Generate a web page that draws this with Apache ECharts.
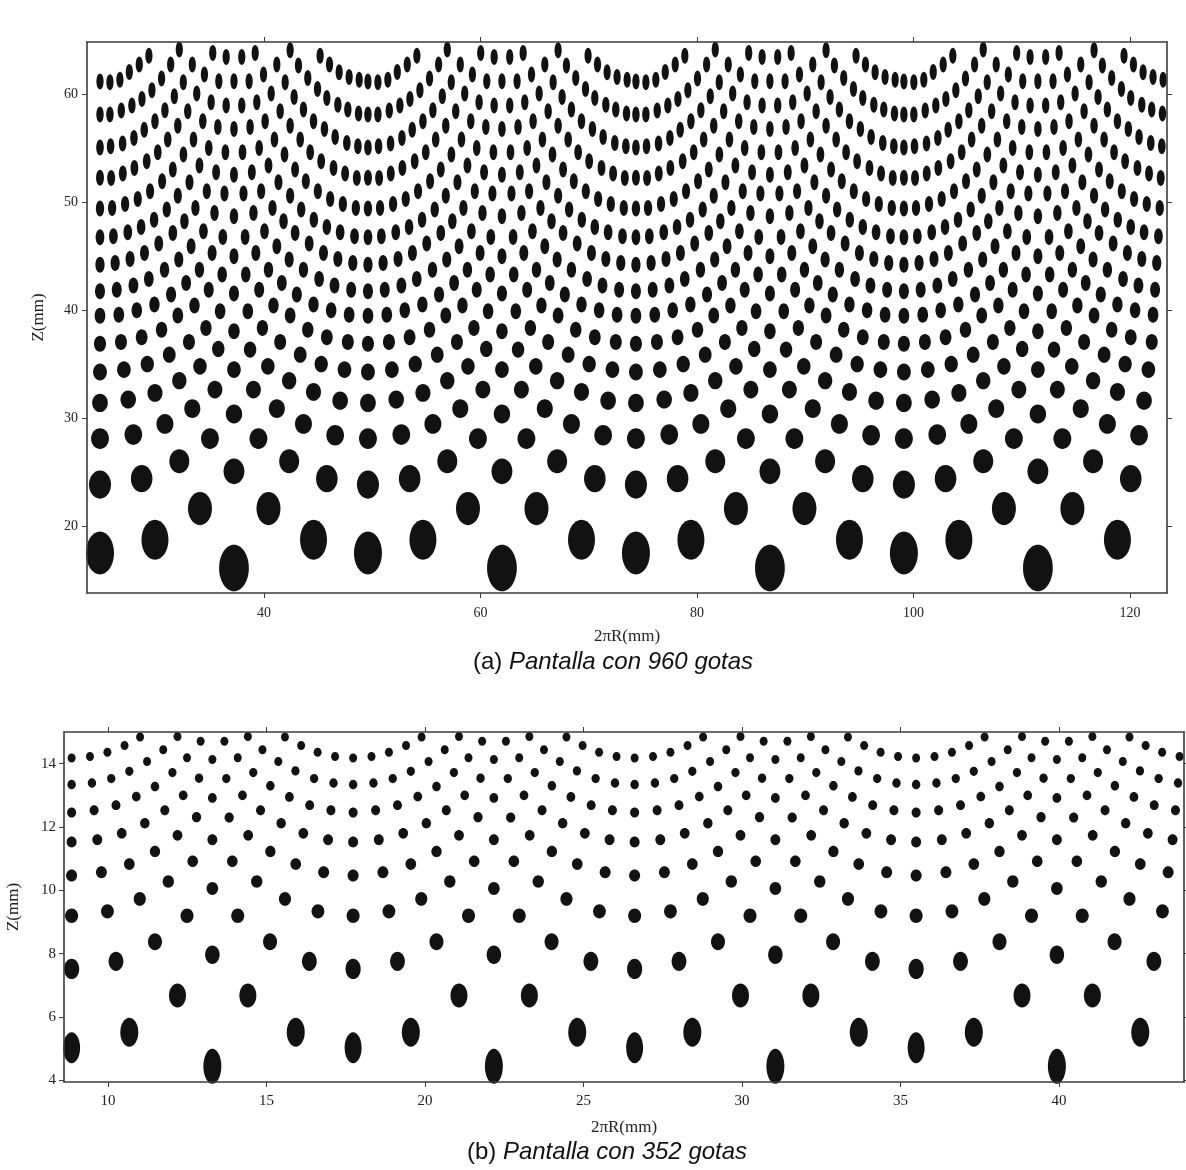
<!DOCTYPE html>
<html>
<head>
<meta charset="utf-8">
<script src="https://cdn.jsdelivr.net/npm/echarts@6/dist/echarts.min.js"></script>
<style>
  html, body { margin: 0; padding: 0; background: #ffffff; }
  #chart { width: 1186px; height: 1170px; }
</style>
</head>
<body>
<div id="chart"></div>
<script>
// ---------------------------------------------------------------
// Panel (a): screen with 960 drops (4 identical sectors of 240).
// Each sector is given as offsets dx (mm) from its big bottom drop.
// ---------------------------------------------------------------
const centrosA = [37.22, 61.98, 86.74, 111.50];

const gotasA_dx = [
  // valley column
  -12.38, -12.38, -12.38, -12.38, -12.38, -12.38, -12.38, -12.38, -12.38, -12.38, -12.38, -12.38, -12.38, -12.38, -12.38,
  // centre column
  0, 0, 0, 0, 0, 0, 0, 0, 0, 0, 0,
  // right-hand rows (from the valley upwards)
  11.57, 10.64, 9.72, 8.83, 7.96,
  11.51, 10.52, 9.60, 8.58, 7.72, 6.82, 5.96, 5.19,
  11.45, 10.43, 9.35, 8.36, 7.35, 6.42, 5.56, 4.73, 3.96,
  11.35, 10.27, 9.20, 8.06, 7.04, 6.12, 5.19, 4.27, 3.44, 2.73, 1.96,
  11.26, 10.06, 8.89, 7.75, 6.64, 5.65, 4.67, 3.74, 2.88, 2.11, 1.40, 0.72,
  11.14, 9.81, 8.58, 7.38, 6.21, 5.19, 4.11, 3.19, 2.33, 1.49, 0.72,
  10.98, 9.60, 8.27, 6.95, 5.65, 4.58, 3.56, 2.51, 1.65, 0.79,
  10.83, 9.29, 7.87, 6.42, 5.10, 3.96, 2.82, 1.80, 0.88,
  10.64, 8.98, 7.35, 5.81, 4.42, 3.19, 2.02, 1.03,
  10.52, 8.58, 6.82, 5.19, 3.65, 2.33, 1.09,
  10.21, 8.06, 6.12, 4.27, 2.63, 1.28,
  9.81, 7.35, 5.10, 3.13, 1.49,
  9.35, 6.42, 3.96, 1.80,
  8.58, 5.10, 2.26,
  7.35, 3.19,
  // left-hand rows
  -11.46, -10.54, -9.67, -8.75, -7.86,
  -11.46, -10.41, -9.43, -8.50, -7.58, -6.69, -5.85, -5.05,
  -11.40, -10.29, -9.24, -8.29, -7.30, -6.38, -5.51, -4.68, -3.85,
  -11.35, -10.27, -9.20, -8.06, -7.04, -6.12, -5.19, -4.27, -3.44, -2.73, -1.96,
  -11.26, -10.06, -8.89, -7.75, -6.64, -5.65, -4.67, -3.74, -2.88, -2.11, -1.40, -0.72,
  -11.14, -9.81, -8.58, -7.38, -6.21, -5.19, -4.11, -3.19, -2.33, -1.49, -0.72,
  -10.98, -9.60, -8.27, -6.95, -5.65, -4.58, -3.56, -2.51, -1.65, -0.79,
  -10.83, -9.29, -7.87, -6.42, -5.10, -3.96, -2.82, -1.80, -0.88,
  -10.64, -8.98, -7.35, -5.81, -4.42, -3.19, -2.02, -1.03,
  -10.44, -8.53, -6.69, -5.19, -3.65, -2.33, -1.09,
  -10.17, -8.01, -5.98, -4.16, -2.59, -1.28,
  -9.77, -7.30, -5.05, -3.14, -1.45,
  -9.30, -6.38, -3.85, -1.76,
  -8.53, -5.05, -2.22,
  -7.30, -3.14
];

const gotasA_z = [
  61.15, 58.10, 55.05, 52.25, 49.40, 46.75, 44.20, 41.75, 39.50, 36.90, 34.30, 31.44, 28.14, 23.89, 17.57,
  61.17, 56.76, 52.54, 48.69, 44.99, 41.55, 38.06, 34.52, 30.42, 25.12, 16.19,
  61.32, 61.57, 62.00, 62.71, 63.54,
  58.18, 58.55, 59.01, 59.63, 60.46, 61.48, 62.62, 64.03,
  55.16, 55.47, 56.02, 56.76, 57.47, 58.55, 59.72, 61.08, 62.71,
  52.23, 52.64, 53.16, 53.78, 54.61, 55.78, 57.07, 58.40, 60.03, 61.79, 63.79,
  49.46, 49.83, 50.29, 51.00, 51.93, 53.01, 54.39, 55.78, 57.47, 59.23, 61.17, 63.42,
  46.84, 47.21, 47.71, 48.38, 49.31, 50.60, 51.83, 53.38, 55.01, 56.95, 58.92,
  44.38, 44.75, 45.30, 46.17, 47.15, 48.23, 49.46, 51.00, 52.76, 54.61,
  41.91, 42.29, 42.90, 43.76, 44.69, 45.92, 47.31, 49.00, 50.79,
  39.60, 40.00, 40.53, 41.45, 42.53, 43.76, 45.30, 46.78,
  37.07, 37.51, 38.21, 39.51, 40.44, 41.91, 43.30,
  34.52, 35.04, 35.90, 37.07, 38.37, 39.91,
  31.65, 32.45, 33.50, 34.82, 36.37,
  28.45, 29.50, 30.91, 32.67,
  24.44, 26.04, 28.14,
  18.80, 21.67,
  61.08, 61.32, 62.03, 62.71, 63.54,
  58.09, 58.46, 58.92, 59.54, 60.34, 61.42, 62.71, 64.10,
  55.16, 55.41, 55.93, 56.70, 57.47, 58.49, 59.78, 61.08, 62.71,
  52.23, 52.64, 53.16, 53.78, 54.61, 55.78, 57.07, 58.40, 60.03, 61.79, 63.79,
  49.46, 49.83, 50.29, 51.00, 51.93, 53.01, 54.39, 55.78, 57.47, 59.23, 61.17, 63.42,
  46.84, 47.21, 47.71, 48.38, 49.31, 50.60, 51.83, 53.38, 55.01, 56.95, 58.92,
  44.38, 44.75, 45.30, 46.17, 47.15, 48.23, 49.46, 51.00, 52.76, 54.61,
  41.91, 42.29, 42.90, 43.76, 44.69, 45.92, 47.31, 49.00, 50.79,
  39.60, 40.00, 40.53, 41.45, 42.53, 43.76, 45.30, 46.78,
  37.07, 37.51, 38.21, 39.51, 40.44, 41.91, 43.30,
  34.52, 35.04, 35.90, 37.07, 38.37, 39.91,
  31.75, 32.36, 33.50, 34.82, 36.43,
  28.51, 29.50, 30.91, 32.67,
  24.44, 26.04, 28.14,
  18.80, 21.67
];

const ticksA_x = [40, 60, 80, 100, 120];
const ticksA_y = [20, 30, 40, 50, 60];

// ---------------------------------------------------------------
// Panel (b): screen with 352 drops (4 identical sectors of 88).
// ---------------------------------------------------------------
const centrosB = [13.29, 22.17, 31.05, 39.93];

const gotasB_dx = [
  // valley column
  -4.44, -4.44, -4.44, -4.44, -4.44, -4.44, -4.44, -4.44,
  // centre column
  0, 0, 0, 0, 0, 0,
  // left half
  -2.28, -1.10, -0.37, -2.77, -3.31, -1.55, -3.86, -0.80, -2.06, -2.62,
  -1.26, -3.19, -0.42, -3.80, -1.81, -0.92, -2.40, -3.04, -3.73, -1.50,
  -0.50, -2.13, -2.86, -1.10, -3.63, -1.81, -0.62, -2.62, -3.50, -1.39,
  -2.29, -3.31, -0.80, -1.81, -3.04, -1.10, -2.62,
  // right half
  0.38, 1.12, 1.58, 0.80, 2.29, 2.08, 2.80, 3.32, 3.87, 0.44,
  1.29, 2.62, 3.21, 3.82, 1.83, 0.95, 2.43, 1.52, 3.07, 3.74,
  0.53, 2.17, 2.87, 1.13, 3.65, 1.83, 0.63, 2.63, 3.51, 1.40,
  2.29, 3.33, 0.80, 1.82, 3.06, 1.12, 2.63
];

const gotasB_z = [
  14.18, 13.34, 12.46, 11.53, 10.47, 9.20, 7.52, 5.03,
  14.13, 12.92, 11.60, 10.06, 7.97, 4.45,
  14.84, 14.86, 14.71, 14.57, 14.36, 14.44, 14.23, 14.19, 14.07, 13.76,
  13.72, 13.53, 13.54, 13.39, 13.28, 13.00, 12.96, 12.69, 12.53, 12.53,
  12.31, 12.12, 11.80, 11.74, 11.60, 11.23, 10.92, 10.83, 10.57, 10.28,
  9.73, 9.34, 9.20, 8.38, 7.76, 6.68, 5.52,
  14.71, 14.86, 14.44, 14.19, 14.84, 14.07, 14.57, 14.36, 14.23, 13.53,
  13.72, 13.77, 13.53, 13.39, 13.30, 13.00, 12.95, 12.53, 12.69, 12.53,
  12.30, 12.12, 11.80, 11.74, 11.60, 11.23, 10.92, 10.83, 10.57, 10.28,
  9.73, 9.34, 9.20, 8.38, 7.76, 6.68, 5.52
];

const ticksB_x = [10, 15, 20, 25, 30, 35, 40];
const ticksB_y = [4, 6, 8, 10, 12, 14];

// ---------------------------------------------------------------
// Drawing
// ---------------------------------------------------------------
function buildPoints(centres, dx, z) {
  const pts = [];
  centres.forEach(c => {
    for (let i = 0; i < dx.length; i++) pts.push([+(c + dx[i]).toFixed(3), z[i]]);
  });
  return pts;
}

// drop footprint (width, height in px) as a function of height Z
const footprintA = [[16, 30, 47], [17.6, 28, 43], [18.8, 27, 40], [21.7, 24, 33], [24, 22, 28],
  [26, 20, 24], [28, 18, 21], [31, 16, 18.5], [34, 14, 17], [37, 12, 16], [40, 10.5, 16],
  [45, 9, 16], [50, 8.2, 16], [55, 7.6, 16], [61, 7.2, 16], [65, 7.2, 16]];
const footprintB = [[4.45, 18, 35], [5.03, 17, 31], [5.52, 18, 29], [6.68, 17, 24], [7.6, 15, 20],
  [8.38, 14, 17], [9.2, 13, 14.5], [9.8, 12, 13.5], [10.5, 11, 12], [11.5, 10, 11],
  [12.5, 9, 10], [13.3, 8.5, 9.5], [14.2, 8, 9], [15, 8, 9]];

function footprint(table, z) {
  if (z <= table[0][0]) return [table[0][1], table[0][2]];
  for (let i = 1; i < table.length; i++) {
    if (z <= table[i][0]) {
      const a = table[i - 1], b = table[i];
      const t = (z - a[0]) / (b[0] - a[0]);
      return [a[1] + t * (b[1] - a[1]), a[2] + t * (b[2] - a[2])];
    }
  }
  const l = table[table.length - 1];
  return [l[1], l[2]];
}

const ELLIPSE = 'path://M1,0 C1,0.5523 0.5523,1 0,1 C-0.5523,1 -1,0.5523 -1,0 C-1,-0.5523 -0.5523,-1 0,-1 C0.5523,-1 1,-0.5523 1,0 Z';
const FRAME = { show: true, onZero: false, lineStyle: { color: '#3c3c3c', width: 1.6 } };
const TICK = { color: '#3c3c3c', width: 1 };
const SERIF = 'Liberation Serif';

function xAxisPair(gridIndex, min, max, ticks, fontSize, labelMargin, nameGap) {
  return [
    {
      type: 'value', gridIndex, position: 'bottom', min, max, z: 10,
      axisLine: FRAME,
      axisTick: { show: true, inside: false, length: 5, customValues: ticks, lineStyle: TICK },
      axisLabel: { show: true, customValues: ticks, margin: labelMargin, fontFamily: SERIF, fontSize, color: '#222' },
      splitLine: { show: false },
      name: '2πR(mm)', nameLocation: 'middle', nameGap,
      nameTextStyle: { fontFamily: SERIF, fontSize: 17, color: '#222' }
    },
    {
      type: 'value', gridIndex, position: 'top', min, max, z: 10,
      axisLine: FRAME,
      axisTick: { show: true, inside: false, length: 5, customValues: ticks, lineStyle: TICK },
      axisLabel: { show: false },
      splitLine: { show: false }
    }
  ];
}

function yAxisPair(gridIndex, min, max, ticks, fontSize, labelMargin, nameGap) {
  return [
    {
      type: 'value', gridIndex, position: 'left', min, max, z: 10,
      axisLine: FRAME,
      axisTick: { show: true, inside: false, length: 5, customValues: ticks, lineStyle: TICK },
      axisLabel: { show: true, customValues: ticks, margin: labelMargin, fontFamily: SERIF, fontSize, color: '#222' },
      splitLine: { show: false },
      name: 'Z(mm)', nameLocation: 'middle', nameGap, nameRotate: 90,
      nameTextStyle: { fontFamily: SERIF, fontSize: 17, color: '#222' }
    },
    {
      type: 'value', gridIndex, position: 'right', min, max, z: 10,
      axisLine: FRAME,
      axisTick: { show: true, inside: false, length: 5, customValues: ticks, lineStyle: TICK },
      axisLabel: { show: false },
      splitLine: { show: false }
    }
  ];
}

function caption(x, y, tag, text) {
  return {
    type: 'text', x, y, z: 20,
    style: {
      text: '{n|' + tag + '}  {i|' + text + '}',
      align: 'center', verticalAlign: 'middle',
      rich: {
        n: { fontFamily: 'Liberation Sans', fontSize: 24, fill: '#111' },
        i: { fontFamily: 'Liberation Sans', fontSize: 24, fontStyle: 'italic', fill: '#111' }
      }
    }
  };
}

const chart = echarts.init(document.getElementById('chart'), null, { renderer: 'canvas' });

const option = {
  backgroundColor: '#ffffff',
  animation: false,
  grid: [
    { left: 87, top: 42, width: 1080, height: 551, outerBoundsMode: 'none', containLabel: false },
    { left: 64, top: 732, width: 1120, height: 350, outerBoundsMode: 'none', containLabel: false }
  ],
  xAxis: [
    ...xAxisPair(0, 23.64, 123.43, ticksA_x, 14, 13, 35),
    ...xAxisPair(1, 8.61, 43.94, ticksB_x, 15, 12, 37)
  ],
  yAxis: [
    ...yAxisPair(0, 13.87, 64.8, ticksA_y, 14, 9, 40),
    ...yAxisPair(1, 3.95, 15, ticksB_y, 15, 8, 42)
  ],
  series: [
    {
      type: 'scatter', xAxisIndex: 0, yAxisIndex: 0, z: 2,
      data: buildPoints(centrosA, gotasA_dx, gotasA_z),
      symbol: ELLIPSE,
      symbolSize: v => footprint(footprintA, v[1]),
      itemStyle: { color: '#121212', opacity: 1 },
      silent: true
    },
    {
      type: 'scatter', xAxisIndex: 2, yAxisIndex: 2, z: 2,
      data: buildPoints(centrosB, gotasB_dx, gotasB_z),
      symbol: ELLIPSE,
      symbolSize: v => footprint(footprintB, v[1]),
      itemStyle: { color: '#121212', opacity: 1 },
      silent: true
    }
  ],
  graphic: [
    // trims the drops that reach past the upper edge of panel (a)
    { type: 'rect', z: 5, shape: { x: 80, y: 0, width: 1100, height: 41.5 }, style: { fill: '#ffffff' }, silent: true },
    caption(613, 662, '(a)', 'Pantalla con 960 gotas'),
    caption(607, 1152, '(b)', 'Pantalla con 352 gotas')
  ]
};

chart.setOption(option);
</script>
</body>
</html>
